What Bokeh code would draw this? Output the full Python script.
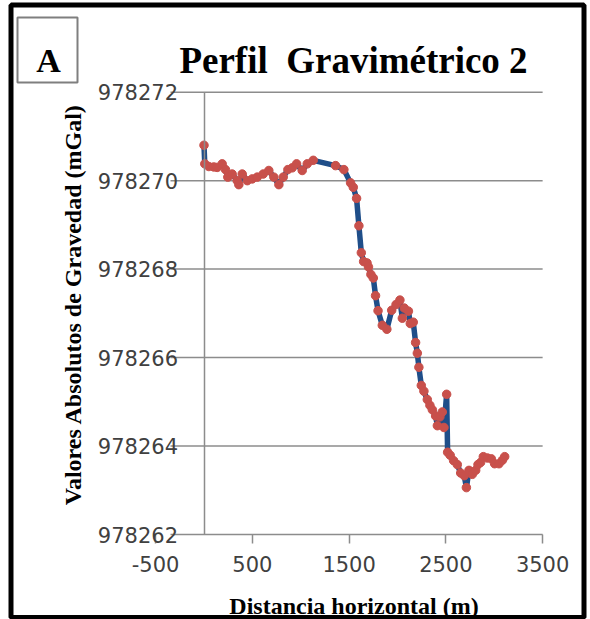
import math
from bokeh.plotting import figure
from bokeh.models import Range1d, LinearAxis, FixedTicker, PrintfTickFormatter, Label, BoxAnnotation
from bokeh.embed import file_html
from bokeh.resources import INLINE

# ---------------- data ----------------
distance_m = [0, 8, 50, 101, 136, 188, 222, 246, 291, 343, 360, 395, 447, 498, 550, 612, 670, 722,
              774, 819, 867, 912, 957, 1015, 1067, 1129, 1360, 1446, 1515, 1543, 1577, 1601, 1626,
              1650, 1685, 1700, 1725, 1750, 1773, 1799, 1843, 1890, 1940, 1985, 2025, 2050, 2070,
              2113, 2132, 2163, 2187, 2205, 2221, 2246, 2273, 2308, 2335, 2360, 2394, 2412, 2438,
              2463, 2480, 2508, 2518, 2545, 2580, 2618, 2653, 2690, 2712, 2739, 2773, 2808, 2832,
              2859, 2887, 2929, 2970, 3004, 3049, 3084, 3108]
gravity_mgal = [978270.80, 978270.38, 978270.32, 978270.31, 978270.30, 978270.38, 978270.25,
                978270.08, 978270.15, 978270.00, 978269.91, 978270.15, 978270.00, 978270.04,
                978270.08, 978270.15, 978270.23, 978270.08, 978269.91, 978270.08, 978270.25,
                978270.29, 978270.38, 978270.23, 978270.38, 978270.46, 978270.34, 978270.25,
                978269.95, 978269.85, 978269.60, 978268.98, 978268.37, 978268.17, 978268.14,
                978268.05, 978267.88, 978267.80, 978267.40, 978267.06, 978266.73, 978266.64,
                978267.07, 978267.20, 978267.30, 978266.89, 978267.12, 978267.05, 978266.77,
                978266.80, 978266.34, 978266.10, 978265.78, 978265.37, 978265.24, 978265.05,
                978264.92, 978264.82, 978264.68, 978264.46, 978264.66, 978264.77, 978264.42,
                978265.17, 978263.86, 978263.79, 978263.67, 978263.58, 978263.39, 978263.33,
                978263.06, 978263.45, 978263.36, 978263.45, 978263.58, 978263.63, 978263.76,
                978263.73, 978263.71, 978263.60, 978263.60, 978263.68, 978263.76]

x_ticks = [-500, 500, 1500, 2500, 3500]
y_ticks = [978262, 978264, 978266, 978268, 978270, 978272]

title_text = "Perfil \u00a0Gravimétrico 2"
panel_letter = "A"
y_title = "Valores Absolutos de Gravedad (mGal)"
x_title = "Distancia horizontal (m)"

# ---------------- layout (page pixels) ----------------
FIG_W, FIG_H = 590, 619
X0_PX = 203.5          # px of x = 0
PX_PER_M = 0.09675
Y0_PX = 534.0          # px of lowest y tick
PX_PER_MGAL = 44.23


def px2x(px):
    return (px - X0_PX) / PX_PER_M


def py2y(py):
    return y_ticks[0] + (Y0_PX - py) / PX_PER_MGAL


p = figure(width=FIG_W, height=FIG_H, output_backend="svg", toolbar_location=None,
           x_axis_location=None, y_axis_location=None, title=None, min_border=0,
           x_range=Range1d(px2x(0), px2x(FIG_W)),
           y_range=Range1d(py2y(FIG_H), py2y(0)))
p.background_fill_color = "white"
p.border_fill_color = "white"
p.outline_line_color = None
p.grid.visible = False

GRID_COLOR = "#8C8C8C"
TICK_FONT = "DejaVu Sans"
SERIF = "Liberation Serif"

# outer black frame
p.add_layout(BoxAnnotation(left=px2x(10.5), right=px2x(583.5), top=py2y(4.5), bottom=py2y(617),
                           fill_alpha=0, line_color="black", line_alpha=1.0, line_width=5))

# horizontal gridlines (lowest one doubles as the x axis line)
grid_x0 = px2x(170)
p.segment(x0=[grid_x0] * len(y_ticks), x1=[x_ticks[-1]] * len(y_ticks),
          y0=y_ticks, y1=y_ticks, line_color=GRID_COLOR, line_width=1.5)

# x axis (ticks + labels) at y = 978262
xaxis = LinearAxis(fixed_location=y_ticks[0], ticker=FixedTicker(ticks=x_ticks),
                   bounds=(x_ticks[0], x_ticks[-1]),
                   formatter=PrintfTickFormatter(format="%d"))
xaxis.axis_line_color = None
xaxis.major_tick_out = 9
xaxis.major_tick_in = 0
xaxis.major_tick_line_color = GRID_COLOR
xaxis.major_tick_line_width = 1.5
xaxis.minor_tick_line_color = None
xaxis.major_label_standoff = 12
xaxis.major_label_text_font = TICK_FONT
xaxis.major_label_text_font_size = "21px"
xaxis.major_label_text_color = "#404040"
p.add_layout(xaxis, "below")

# y axis crossing at x = 0
yaxis = LinearAxis(fixed_location=0, ticker=FixedTicker(ticks=y_ticks),
                   bounds=(y_ticks[0], y_ticks[-1]),
                   formatter=PrintfTickFormatter(format="%d"))
yaxis.axis_line_color = GRID_COLOR
yaxis.axis_line_width = 1.5
yaxis.major_tick_out = 0
yaxis.major_tick_in = 0
yaxis.minor_tick_line_color = None
yaxis.major_label_standoff = 26
yaxis.major_label_text_font = TICK_FONT
yaxis.major_label_text_font_size = "21px"
yaxis.major_label_text_color = "#404040"
p.add_layout(yaxis, "left")

# data
p.line(distance_m, gravity_mgal, line_color="#1F4E89", line_width=5.5, line_join="round")
p.scatter(distance_m, gravity_mgal, marker="circle", size=8.5, fill_color="#C8504B",
          line_color="#C8504B")

# panel letter box
p.add_layout(BoxAnnotation(left=px2x(17), right=px2x(77), top=py2y(17), bottom=py2y(82),
                           fill_alpha=0, line_color="#7F7F7F", line_alpha=1.0, line_width=2))
p.add_layout(Label(x=px2x(48), y=py2y(60), text=panel_letter, text_align="center",
                   text_baseline="alphabetic", text_font=SERIF, text_font_style="bold",
                   text_font_size="34px", text_color="black"))

# title
p.add_layout(Label(x=px2x(353), y=py2y(60), text=title_text, text_align="center",
                   text_baseline="alphabetic", text_font=SERIF, text_font_style="bold",
                   text_font_size="37px", text_color="black"))

# axis titles
p.add_layout(Label(x=px2x(72), y=py2y(304), text=y_title, angle=math.pi / 2,
                   text_align="center", text_baseline="middle", text_font=SERIF,
                   text_font_style="bold", text_font_size="24px", text_color="black"))
p.add_layout(Label(x=px2x(353.5), y=py2y(605), text=x_title, text_align="center",
                   text_baseline="alphabetic", text_font=SERIF, text_font_style="bold",
                   text_font_size="24px", text_color="black"))

open("out.html", "w").write(file_html(p, INLINE))
